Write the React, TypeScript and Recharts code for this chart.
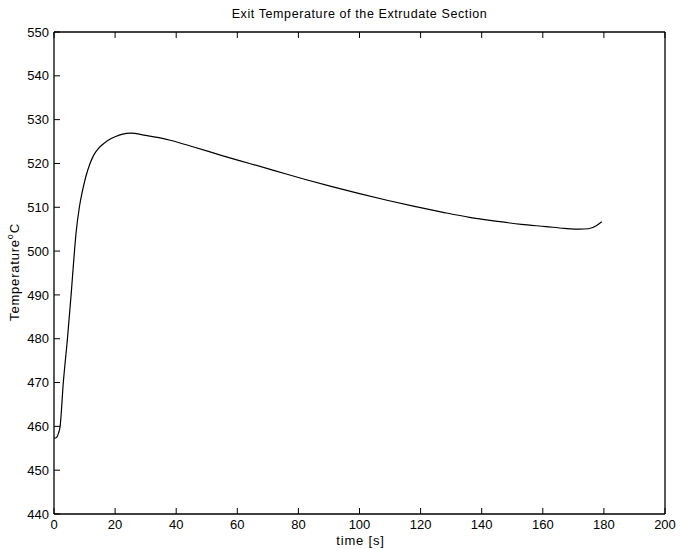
import { LineChart, Line, XAxis, YAxis } from 'recharts';

const timeS = [
  0, 0.7, 1.4, 2.0, 3.05, 4.4, 5.6, 6.7, 7.2, 8.3, 9.4, 10.5, 11.8, 13, 14.5, 16, 18, 20, 22.5,
  25, 30, 38, 46, 55, 64, 73, 82, 91, 100, 109, 118, 127, 136, 145, 153, 161, 167, 172, 175,
  177.5, 179.3,
];
const tempC = [
  457.3, 457.4, 458.3, 460, 470, 480, 490, 500, 504, 510, 514, 517.2, 520, 521.9, 523.4, 524.4,
  525.4, 526.1, 526.7, 526.9, 526.4, 525.3, 523.7, 521.8, 520.0, 518.2, 516.4, 514.7, 513.1,
  511.6, 510.2, 508.9, 507.7, 506.8, 506.1, 505.6, 505.2, 505.0, 505.1, 505.8, 506.7,
];
const xTicks = [0, 20, 40, 60, 80, 100, 120, 140, 160, 180, 200];
const yTicks = [440, 450, 460, 470, 480, 490, 500, 510, 520, 530, 540, 550];

const data = timeS.map((t, i) => ({ t, temp: tempC[i] }));

const FONT = '"Liberation Sans", Arial, sans-serif';
const TICK = 6;
const AXIS = { stroke: '#000', strokeWidth: 1.3 };

const BottomTick = ({ x, y, payload }: any) => (
  <g>
    <line x1={x} x2={x} y1={y} y2={y - TICK} stroke="#000" strokeWidth={1} />
    <text x={x} y={y + 15} textAnchor="middle" fontFamily={FONT} fontSize={13} fill="#000">
      {payload.value}
    </text>
  </g>
);

const TopTick = ({ x, y }: any) => (
  <line x1={x} x2={x} y1={y} y2={y + TICK} stroke="#000" strokeWidth={1} />
);

const LeftTick = ({ x, y, payload }: any) => (
  <g>
    <line x1={x} x2={x + TICK} y1={y} y2={y} stroke="#000" strokeWidth={1} />
    <text x={x - 5} y={y + 4.6} textAnchor="end" fontFamily={FONT} fontSize={13} fill="#000">
      {payload.value}
    </text>
  </g>
);

const RightTick = ({ x, y }: any) => (
  <line x1={x} x2={x - TICK} y1={y} y2={y} stroke="#000" strokeWidth={1} />
);

export default function App() {
  return (
    <div style={{ position: 'absolute', left: 0, top: 0, width: 680, height: 549, background: '#fff' }}>
      <LineChart width={680} height={549} data={data} margin={{ top: 0, right: 0, bottom: 0, left: 0 }}>
        <XAxis
          dataKey="t"
          type="number"
          domain={[0, 200]}
          ticks={xTicks}
          interval={0}
          height={35}
          tickSize={0}
          tickMargin={0}
          tickLine={false}
          axisLine={AXIS}
          tick={<BottomTick />}
        />
        <XAxis
          xAxisId="top"
          orientation="top"
          dataKey="t"
          type="number"
          domain={[0, 200]}
          ticks={xTicks}
          interval={0}
          height={32}
          tickSize={0}
          tickMargin={0}
          tickLine={false}
          axisLine={AXIS}
          tick={<TopTick />}
        />
        <YAxis
          type="number"
          domain={[440, 550]}
          ticks={yTicks}
          interval={0}
          width={54}
          tickSize={0}
          tickMargin={0}
          tickLine={false}
          axisLine={AXIS}
          tick={<LeftTick />}
        />
        <YAxis
          yAxisId="right"
          orientation="right"
          type="number"
          domain={[440, 550]}
          ticks={yTicks}
          interval={0}
          width={15}
          tickSize={0}
          tickMargin={0}
          tickLine={false}
          axisLine={AXIS}
          tick={<RightTick />}
        />
        <Line
          type="monotone"
          dataKey="temp"
          stroke="#000"
          strokeWidth={1.2}
          dot={false}
          isAnimationActive={false}
        />
      </LineChart>
      <svg
        width={680}
        height={549}
        style={{ position: 'absolute', left: 0, top: 0, pointerEvents: 'none' }}
      >
        <text x={359.5} y={18} textAnchor="middle" fontFamily={FONT} fontSize={12.5} letterSpacing={0.6} fill="#000">
          Exit Temperature of the Extrudate Section
        </text>
        <text x={360.5} y={544.5} textAnchor="middle" fontFamily={FONT} fontSize={13} letterSpacing={0.8} fill="#000">
          time [s]
        </text>
        <text
          transform="translate(19,272) rotate(-90)"
          textAnchor="middle"
          fontFamily={FONT}
          fontSize={13}
          letterSpacing={0.8}
          fill="#000"
        >
          Temperature
          <tspan dy={-6} fontSize={9}>o</tspan>
          <tspan dy={6}>C</tspan>
        </text>
      </svg>
    </div>
  );
}
